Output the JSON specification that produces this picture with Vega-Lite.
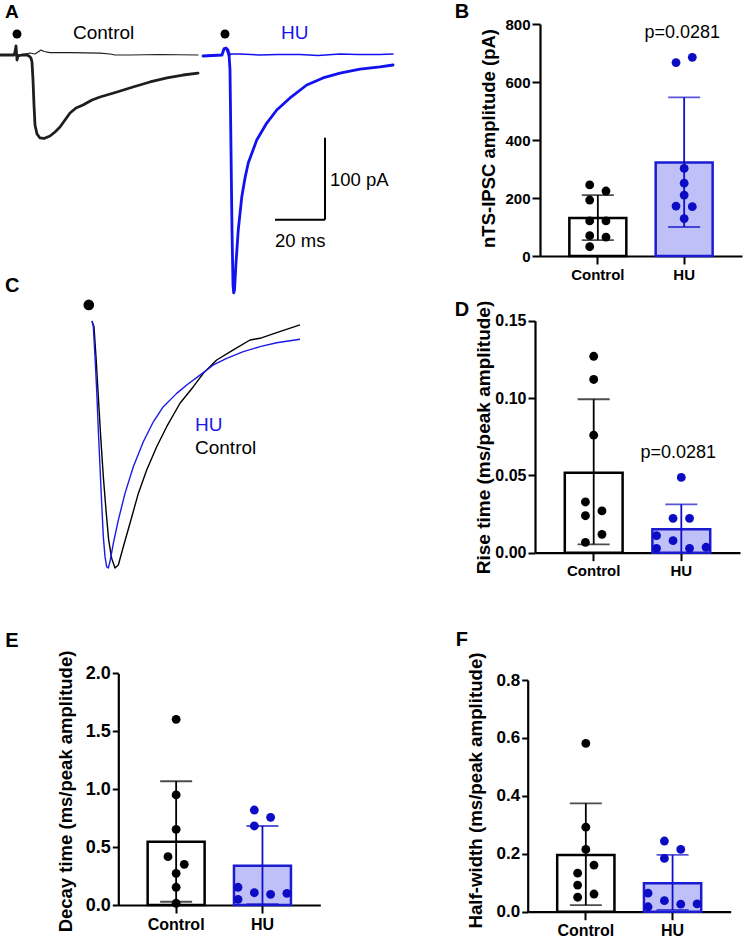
{
  "$schema": "https://vega.github.io/schema/vega-lite/v6.json",
  "width": 745,
  "height": 941,
  "autosize": {"type": "none"},
  "padding": 0,
  "background": "white",
  "config": {
    "view": {"stroke": null},
    "font": "Liberation Sans",
    "axis": {"grid": false, "domainColor": "#000000", "domainWidth": 2.2, "tickColor": "#000000", "tickWidth": 2, "labelColor": "#000000", "labelFont": "Liberation Sans", "labelFontWeight": "bold", "titleColor": "#000000", "titleFont": "Liberation Sans", "titleFontWeight": "bold", "labelFlush": false, "labelOverlap": false}
  },
  "datasets": {
    "traceA": [
      {"cond": "Control", "sweep": "failure", "t": 0, "I": 0}, {"cond": "Control", "sweep": "failure", "t": 5.6, "I": 0}, {"cond": "Control", "sweep": "failure", "t": 6, "I": 3.7}, {"cond": "Control", "sweep": "failure", "t": 6.4, "I": 11}, {"cond": "Control", "sweep": "failure", "t": 6.8, "I": -6.1}, {"cond": "Control", "sweep": "failure", "t": 7.2, "I": 0}, {"cond": "Control", "sweep": "failure", "t": 10, "I": 1.2}, {"cond": "Control", "sweep": "failure", "t": 12, "I": 2.4}, {"cond": "Control", "sweep": "failure", "t": 14, "I": 1.2}, {"cond": "Control", "sweep": "failure", "t": 15.2, "I": 3.7}, {"cond": "Control", "sweep": "failure", "t": 16.4, "I": 6.1}, {"cond": "Control", "sweep": "failure", "t": 17.6, "I": 4.3}, {"cond": "Control", "sweep": "failure", "t": 20, "I": 3}, {"cond": "Control", "sweep": "failure", "t": 28, "I": 3}, {"cond": "Control", "sweep": "failure", "t": 40, "I": 2.4}, {"cond": "Control", "sweep": "failure", "t": 44, "I": 1.2}, {"cond": "Control", "sweep": "failure", "t": 46, "I": 0}, {"cond": "Control", "sweep": "failure", "t": 52, "I": 0}, {"cond": "Control", "sweep": "failure", "t": 64, "I": 0.6}, {"cond": "Control", "sweep": "failure", "t": 79.2, "I": 0},
      {"cond": "Control", "sweep": "evoked", "t": 0, "I": 0}, {"cond": "Control", "sweep": "evoked", "t": 5.6, "I": 0}, {"cond": "Control", "sweep": "evoked", "t": 6, "I": 3.7}, {"cond": "Control", "sweep": "evoked", "t": 6.4, "I": 11}, {"cond": "Control", "sweep": "evoked", "t": 6.8, "I": -6.1}, {"cond": "Control", "sweep": "evoked", "t": 7.2, "I": -1.2}, {"cond": "Control", "sweep": "evoked", "t": 8.8, "I": 0}, {"cond": "Control", "sweep": "evoked", "t": 10.8, "I": 0}, {"cond": "Control", "sweep": "evoked", "t": 11.6, "I": -1.2}, {"cond": "Control", "sweep": "evoked", "t": 12.4, "I": -3.7}, {"cond": "Control", "sweep": "evoked", "t": 12.8, "I": -8.5}, {"cond": "Control", "sweep": "evoked", "t": 13.2, "I": -30.5}, {"cond": "Control", "sweep": "evoked", "t": 13.6, "I": -61}, {"cond": "Control", "sweep": "evoked", "t": 14, "I": -85.4}, {"cond": "Control", "sweep": "evoked", "t": 14.8, "I": -96.3}, {"cond": "Control", "sweep": "evoked", "t": 16, "I": -101.2}, {"cond": "Control", "sweep": "evoked", "t": 17.6, "I": -101.8}, {"cond": "Control", "sweep": "evoked", "t": 20, "I": -98.8}, {"cond": "Control", "sweep": "evoked", "t": 22, "I": -93.9}, {"cond": "Control", "sweep": "evoked", "t": 24, "I": -87.8}, {"cond": "Control", "sweep": "evoked", "t": 26, "I": -79.3}, {"cond": "Control", "sweep": "evoked", "t": 28, "I": -70.7}, {"cond": "Control", "sweep": "evoked", "t": 30.4, "I": -64.6}, {"cond": "Control", "sweep": "evoked", "t": 33.2, "I": -61}, {"cond": "Control", "sweep": "evoked", "t": 36.8, "I": -54.9}, {"cond": "Control", "sweep": "evoked", "t": 40, "I": -51.2}, {"cond": "Control", "sweep": "evoked", "t": 46.8, "I": -45.1}, {"cond": "Control", "sweep": "evoked", "t": 53.2, "I": -39}, {"cond": "Control", "sweep": "evoked", "t": 60, "I": -32.9}, {"cond": "Control", "sweep": "evoked", "t": 66.8, "I": -28}, {"cond": "Control", "sweep": "evoked", "t": 73.2, "I": -24.4}, {"cond": "Control", "sweep": "evoked", "t": 79.2, "I": -22},
      {"cond": "HU", "sweep": "failure", "t": 0, "I": -1.2}, {"cond": "HU", "sweep": "failure", "t": 4.8, "I": 0}, {"cond": "HU", "sweep": "failure", "t": 7.6, "I": 0}, {"cond": "HU", "sweep": "failure", "t": 8, "I": 6.1}, {"cond": "HU", "sweep": "failure", "t": 8.4, "I": 8.5}, {"cond": "HU", "sweep": "failure", "t": 9.2, "I": 7.3}, {"cond": "HU", "sweep": "failure", "t": 10, "I": 1.2}, {"cond": "HU", "sweep": "failure", "t": 10.4, "I": -3.7}, {"cond": "HU", "sweep": "failure", "t": 10.8, "I": 1.2}, {"cond": "HU", "sweep": "failure", "t": 14.8, "I": 1.2}, {"cond": "HU", "sweep": "failure", "t": 22.8, "I": 0}, {"cond": "HU", "sweep": "failure", "t": 30, "I": 0.6}, {"cond": "HU", "sweep": "failure", "t": 38.8, "I": 0.6}, {"cond": "HU", "sweep": "failure", "t": 46, "I": -0.6}, {"cond": "HU", "sweep": "failure", "t": 54.8, "I": 1.2}, {"cond": "HU", "sweep": "failure", "t": 62, "I": 0.6}, {"cond": "HU", "sweep": "failure", "t": 70.8, "I": 0.6}, {"cond": "HU", "sweep": "failure", "t": 76, "I": 1.2},
      {"cond": "HU", "sweep": "evoked", "t": 0, "I": -1.2}, {"cond": "HU", "sweep": "evoked", "t": 7.6, "I": 0}, {"cond": "HU", "sweep": "evoked", "t": 8.4, "I": 7.3}, {"cond": "HU", "sweep": "evoked", "t": 9.2, "I": 8.5}, {"cond": "HU", "sweep": "evoked", "t": 10, "I": 6.1}, {"cond": "HU", "sweep": "evoked", "t": 10.4, "I": 1.2}, {"cond": "HU", "sweep": "evoked", "t": 10.8, "I": -18.3}, {"cond": "HU", "sweep": "evoked", "t": 11.2, "I": -115.9}, {"cond": "HU", "sweep": "evoked", "t": 11.6, "I": -213.4}, {"cond": "HU", "sweep": "evoked", "t": 12, "I": -280.5}, {"cond": "HU", "sweep": "evoked", "t": 12.28, "I": -290.2}, {"cond": "HU", "sweep": "evoked", "t": 12.6, "I": -286.6}, {"cond": "HU", "sweep": "evoked", "t": 13.2, "I": -253.7}, {"cond": "HU", "sweep": "evoked", "t": 14.1, "I": -213.4}, {"cond": "HU", "sweep": "evoked", "t": 15.5, "I": -173.2}, {"cond": "HU", "sweep": "evoked", "t": 16.8, "I": -150}, {"cond": "HU", "sweep": "evoked", "t": 18.1, "I": -131.7}, {"cond": "HU", "sweep": "evoked", "t": 21.5, "I": -103.7}, {"cond": "HU", "sweep": "evoked", "t": 25.5, "I": -83}, {"cond": "HU", "sweep": "evoked", "t": 29.5, "I": -67.1}, {"cond": "HU", "sweep": "evoked", "t": 34.8, "I": -52.4}, {"cond": "HU", "sweep": "evoked", "t": 41.5, "I": -36.6}, {"cond": "HU", "sweep": "evoked", "t": 48, "I": -28}, {"cond": "HU", "sweep": "evoked", "t": 54.8, "I": -22}, {"cond": "HU", "sweep": "evoked", "t": 62.8, "I": -17.1}, {"cond": "HU", "sweep": "evoked", "t": 70.8, "I": -14.6}, {"cond": "HU", "sweep": "evoked", "t": 76, "I": -12.2}
    ],
    "traceC": [
      {"cond": "Control", "t": 0, "I": 0}, {"cond": "Control", "t": 0.5, "I": -0.023}, {"cond": "Control", "t": 1, "I": -0.145}, {"cond": "Control", "t": 1.58, "I": -0.306}, {"cond": "Control", "t": 2.17, "I": -0.468}, {"cond": "Control", "t": 2.83, "I": -0.63}, {"cond": "Control", "t": 3.5, "I": -0.765}, {"cond": "Control", "t": 4.17, "I": -0.887}, {"cond": "Control", "t": 4.92, "I": -0.961}, {"cond": "Control", "t": 5.75, "I": -1}, {"cond": "Control", "t": 6.58, "I": -0.988}, {"cond": "Control", "t": 7.83, "I": -0.914}, {"cond": "Control", "t": 9.5, "I": -0.819}, {"cond": "Control", "t": 11.58, "I": -0.698}, {"cond": "Control", "t": 13.67, "I": -0.603}, {"cond": "Control", "t": 16.17, "I": -0.509}, {"cond": "Control", "t": 18.67, "I": -0.428}, {"cond": "Control", "t": 22, "I": -0.333}, {"cond": "Control", "t": 25.33, "I": -0.266}, {"cond": "Control", "t": 27.83, "I": -0.212}, {"cond": "Control", "t": 31.17, "I": -0.158}, {"cond": "Control", "t": 35.33, "I": -0.117}, {"cond": "Control", "t": 39.5, "I": -0.077}, {"cond": "Control", "t": 42, "I": -0.07}, {"cond": "Control", "t": 46.17, "I": -0.047}, {"cond": "Control", "t": 52, "I": -0.016},
      {"cond": "HU", "t": 0, "I": 0}, {"cond": "HU", "t": 0.33, "I": -0.023}, {"cond": "HU", "t": 0.75, "I": -0.145}, {"cond": "HU", "t": 1.17, "I": -0.279}, {"cond": "HU", "t": 1.58, "I": -0.441}, {"cond": "HU", "t": 2, "I": -0.59}, {"cond": "HU", "t": 2.42, "I": -0.738}, {"cond": "HU", "t": 2.83, "I": -0.873}, {"cond": "HU", "t": 3.25, "I": -0.954}, {"cond": "HU", "t": 3.67, "I": -0.995}, {"cond": "HU", "t": 4.08, "I": -1}, {"cond": "HU", "t": 4.5, "I": -0.974}, {"cond": "HU", "t": 5.33, "I": -0.9}, {"cond": "HU", "t": 6.58, "I": -0.806}, {"cond": "HU", "t": 8.25, "I": -0.698}, {"cond": "HU", "t": 10.33, "I": -0.59}, {"cond": "HU", "t": 12.83, "I": -0.489}, {"cond": "HU", "t": 15.33, "I": -0.408}, {"cond": "HU", "t": 17.83, "I": -0.347}, {"cond": "HU", "t": 21.17, "I": -0.293}, {"cond": "HU", "t": 23.67, "I": -0.259}, {"cond": "HU", "t": 27, "I": -0.219}, {"cond": "HU", "t": 30.33, "I": -0.178}, {"cond": "HU", "t": 33.67, "I": -0.151}, {"cond": "HU", "t": 37.83, "I": -0.124}, {"cond": "HU", "t": 42, "I": -0.104}, {"cond": "HU", "t": 46.17, "I": -0.088}, {"cond": "HU", "t": 52, "I": -0.074}
    ],
    "points": [
      {"panel": "B", "group": "Control", "value": 245, "col": -1}, {"panel": "B", "group": "Control", "value": 224, "col": 1}, {"panel": "B", "group": "Control", "value": 193, "col": -1}, {"panel": "B", "group": "Control", "value": 121, "col": -1}, {"panel": "B", "group": "Control", "value": 121, "col": 1}, {"panel": "B", "group": "Control", "value": 70, "col": -1}, {"panel": "B", "group": "Control", "value": 65, "col": 1}, {"panel": "B", "group": "Control", "value": 32, "col": -1},
      {"panel": "B", "group": "HU", "value": 667, "col": -1}, {"panel": "B", "group": "HU", "value": 685, "col": 1}, {"panel": "B", "group": "HU", "value": 302, "col": 0}, {"panel": "B", "group": "HU", "value": 251, "col": 0}, {"panel": "B", "group": "HU", "value": 210, "col": 0}, {"panel": "B", "group": "HU", "value": 172, "col": -1}, {"panel": "B", "group": "HU", "value": 170, "col": 1}, {"panel": "B", "group": "HU", "value": 129, "col": 0},
      {"panel": "D", "group": "Control", "value": 0.127, "col": 0}, {"panel": "D", "group": "Control", "value": 0.112, "col": 0}, {"panel": "D", "group": "Control", "value": 0.076, "col": 0}, {"panel": "D", "group": "Control", "value": 0.0328, "col": -1}, {"panel": "D", "group": "Control", "value": 0.0239, "col": -1}, {"panel": "D", "group": "Control", "value": 0.027, "col": 1}, {"panel": "D", "group": "Control", "value": 0.0119, "col": 1}, {"panel": "D", "group": "Control", "value": 0.0067, "col": -1},
      {"panel": "D", "group": "HU", "value": 0.0487, "col": 0}, {"panel": "D", "group": "HU", "value": 0.0222, "col": -1}, {"panel": "D", "group": "HU", "value": 0.0222, "col": 1}, {"panel": "D", "group": "HU", "value": 0.011, "col": -3}, {"panel": "D", "group": "HU", "value": 0.0078, "col": -1}, {"panel": "D", "group": "HU", "value": 0.0028, "col": -3}, {"panel": "D", "group": "HU", "value": 0.0028, "col": 1}, {"panel": "D", "group": "HU", "value": 0.0035, "col": 3},
      {"panel": "E", "group": "Control", "value": 1.603, "col": 0}, {"panel": "E", "group": "Control", "value": 0.95, "col": 0}, {"panel": "E", "group": "Control", "value": 0.653, "col": 0}, {"panel": "E", "group": "Control", "value": 0.417, "col": -1}, {"panel": "E", "group": "Control", "value": 0.351, "col": 1}, {"panel": "E", "group": "Control", "value": 0.273, "col": 0}, {"panel": "E", "group": "Control", "value": 0.153, "col": 0}, {"panel": "E", "group": "Control", "value": 0.015, "col": 0},
      {"panel": "E", "group": "HU", "value": 0.82, "col": -1}, {"panel": "E", "group": "HU", "value": 0.757, "col": 1}, {"panel": "E", "group": "HU", "value": 0.682, "col": -1}, {"panel": "E", "group": "HU", "value": 0.153, "col": -3}, {"panel": "E", "group": "HU", "value": 0.106, "col": -1}, {"panel": "E", "group": "HU", "value": 0.092, "col": 1}, {"panel": "E", "group": "HU", "value": 0.101, "col": 3}, {"panel": "E", "group": "HU", "value": 0.049, "col": -3},
      {"panel": "F", "group": "Control", "value": 0.581, "col": 0}, {"panel": "F", "group": "Control", "value": 0.292, "col": 0}, {"panel": "F", "group": "Control", "value": 0.215, "col": 0}, {"panel": "F", "group": "Control", "value": 0.161, "col": 1}, {"panel": "F", "group": "Control", "value": 0.133, "col": -1}, {"panel": "F", "group": "Control", "value": 0.092, "col": -1}, {"panel": "F", "group": "Control", "value": 0.061, "col": 1}, {"panel": "F", "group": "Control", "value": 0.05, "col": -1},
      {"panel": "F", "group": "HU", "value": 0.244, "col": -1}, {"panel": "F", "group": "HU", "value": 0.215, "col": 1}, {"panel": "F", "group": "HU", "value": 0.184, "col": -1}, {"panel": "F", "group": "HU", "value": 0.064, "col": -3}, {"panel": "F", "group": "HU", "value": 0.038, "col": -1}, {"panel": "F", "group": "HU", "value": 0.026, "col": 1}, {"panel": "F", "group": "HU", "value": 0.027, "col": 3}, {"panel": "F", "group": "HU", "value": 0.017, "col": -3}
    ],
    "summary": [
      {"panel": "B", "group": "Control", "mean": 131, "lo": 55, "hi": 210}, {"panel": "B", "group": "HU", "mean": 322, "lo": 100, "hi": 547},
      {"panel": "D", "group": "Control", "mean": 0.0517, "lo": 0.0054, "hi": 0.0992}, {"panel": "D", "group": "HU", "mean": 0.0151, "lo": 0, "hi": 0.0313},
      {"panel": "E", "group": "Control", "mean": 0.546, "lo": 0.028, "hi": 1.068}, {"panel": "E", "group": "HU", "mean": 0.339, "lo": 0.008, "hi": 0.682},
      {"panel": "F", "group": "Control", "mean": 0.196, "lo": 0.023, "hi": 0.374}, {"panel": "F", "group": "HU", "mean": 0.098, "lo": 0.006, "hi": 0.196}
    ]
  },
  "resolve": {
    "scale": {"x": "independent", "y": "independent", "xOffset": "independent", "color": "independent", "fill": "independent", "stroke": "independent", "strokeWidth": "independent"},
    "axis": {"x": "independent", "y": "independent"}
  },
  "layer": [
    {
      "layer": [
        {
          "data": {"name": "traceA"},
          "transform": [{"filter": "datum.cond === 'Control'"}],
          "mark": {"type": "line", "strokeJoin": "round", "strokeCap": "round"},
          "encoding": {
            "x": {"field": "t", "type": "quantitative", "scale": {"domain": [0, 79.2], "range": [0, 198], "nice": false, "zero": false}, "axis": null},
            "y": {"field": "I", "type": "quantitative", "scale": {"domain": [-300, 50], "range": [301, 14], "nice": false, "zero": false}, "axis": null},
            "color": {"field": "cond", "type": "nominal", "scale": {"domain": ["Control", "HU"], "range": ["#1e1e1e", "#1212ee"]}, "legend": null},
            "strokeWidth": {"field": "sweep", "type": "ordinal", "scale": {"domain": ["evoked", "failure"], "range": [2.8, 1.2]}, "legend": null},
            "detail": {"field": "sweep"}
          }
        },
        {"data": {"values": [{}]}, "mark": {"type": "circle", "size": 80, "color": "#000000", "opacity": 1}, "encoding": {"x": {"datum": 6.8}, "y": {"datum": 25.6}}},
        {"data": {"values": [{}]}, "mark": {"type": "text", "text": "Control", "fontSize": 19, "align": "left", "baseline": "middle", "color": "#000000"}, "encoding": {"x": {"datum": 29.2}, "y": {"datum": 26.8}}},
        {"data": {"values": [{}]}, "mark": {"type": "text", "text": "A", "fontSize": 19, "fontWeight": "bold", "align": "left", "baseline": "alphabetic", "color": "#000000"}, "encoding": {"x": {"datum": 2}, "y": {"datum": 45.7}}}
      ]
    },
    {
      "layer": [
        {
          "data": {"name": "traceA"},
          "transform": [{"filter": "datum.cond === 'HU'"}],
          "mark": {"type": "line", "strokeJoin": "round", "strokeCap": "round"},
          "encoding": {
            "x": {"field": "t", "type": "quantitative", "scale": {"domain": [0, 76], "range": [203, 393], "nice": false, "zero": false}, "axis": null},
            "y": {"field": "I", "type": "quantitative", "scale": {"domain": [-300, 50], "range": [301, 14], "nice": false, "zero": false}, "axis": null},
            "color": {"field": "cond", "type": "nominal", "scale": {"domain": ["Control", "HU"], "range": ["#1e1e1e", "#1212ee"]}, "legend": null},
            "strokeWidth": {"field": "sweep", "type": "ordinal", "scale": {"domain": ["evoked", "failure"], "range": [2.8, 1.4]}, "legend": null},
            "detail": {"field": "sweep"}
          }
        },
        {"data": {"values": [{}]}, "mark": {"type": "circle", "size": 80, "color": "#000000", "opacity": 1}, "encoding": {"x": {"datum": 8.8}, "y": {"datum": 25.6}}},
        {"data": {"values": [{}]}, "mark": {"type": "text", "text": "HU", "fontSize": 19, "align": "left", "baseline": "middle", "color": "#1414f0"}, "encoding": {"x": {"datum": 31.2}, "y": {"datum": 26.8}}},
        {"data": {"values": [{}]}, "mark": {"type": "rule", "strokeWidth": 2, "color": "#000000"}, "encoding": {"x": {"datum": 48.8}, "y": {"datum": -101}, "y2": {"datum": -201}}},
        {"data": {"values": [{}]}, "mark": {"type": "rule", "strokeWidth": 2, "color": "#000000"}, "encoding": {"x": {"datum": 28.8}, "x2": {"datum": 48.8}, "y": {"datum": -201}}},
        {"data": {"values": [{}]}, "mark": {"type": "text", "text": "100 pA", "fontSize": 18.5, "align": "left", "baseline": "middle", "color": "#000000"}, "encoding": {"x": {"datum": 50.8}, "y": {"datum": -153}}},
        {"data": {"values": [{}]}, "mark": {"type": "text", "text": "20 ms", "fontSize": 18.5, "align": "left", "baseline": "middle", "color": "#000000"}, "encoding": {"x": {"datum": 28.8}, "y": {"datum": -227}}}
      ]
    },
    {
      "layer": [
        {
          "data": {"name": "traceC"},
          "mark": {"type": "line", "strokeWidth": 1.4, "strokeJoin": "round"},
          "encoding": {
            "x": {"field": "t", "type": "quantitative", "scale": {"domain": [0, 52], "range": [92, 300], "nice": false, "zero": false}, "axis": null},
            "y": {"field": "I", "type": "quantitative", "scale": {"domain": [-1, 0], "range": [568, 321], "nice": false, "zero": false}, "axis": null},
            "color": {"field": "cond", "type": "nominal", "scale": {"domain": ["Control", "HU"], "range": ["#000000", "#1a1ae6"]}, "legend": null}
          }
        },
        {"data": {"values": [{}]}, "mark": {"type": "circle", "size": 115, "color": "#000000", "opacity": 1}, "encoding": {"x": {"datum": -0.8}, "y": {"datum": 0.065}}},
        {"data": {"values": [{}]}, "mark": {"type": "text", "text": "HU", "fontSize": 19, "align": "left", "baseline": "middle", "color": "#1a1ae6"}, "encoding": {"x": {"datum": 25.75}, "y": {"datum": -0.421}}},
        {"data": {"values": [{}]}, "mark": {"type": "text", "text": "Control", "fontSize": 19, "align": "left", "baseline": "middle", "color": "#000000"}, "encoding": {"x": {"datum": 25.75}, "y": {"datum": -0.514}}},
        {"data": {"values": [{}]}, "mark": {"type": "text", "text": "C", "fontSize": 20, "fontWeight": "bold", "align": "left", "baseline": "middle", "color": "#000000"}, "encoding": {"x": {"datum": -21.75}, "y": {"datum": 0.142}}}
      ]
    },
    {
      "data": {"name": "summary"},
      "transform": [{"filter": "datum.panel === 'B'"}],
      "layer": [
        {
          "mark": {"type": "bar", "strokeWidth": 2.5},
          "encoding": {
            "x": {"field": "group", "type": "nominal", "scale": {"domain": ["Control", "HU"], "range": [540, 742], "paddingInner": 0.34, "paddingOuter": 0.34}, "axis": {"orient": "bottom", "offset": -685, "title": null, "labelAngle": 0, "tickSize": 8, "labelPadding": 3, "labelFontSize": 15}},
            "y": {"field": "mean", "type": "quantitative", "stack": null, "scale": {"domain": [0, 800], "range": [256, 24], "nice": false}, "axis": {"orient": "left", "offset": -540, "title": "nTS-IPSC amplitude (pA)", "values": [0, 200, 400, 600, 800], "format": "d", "tickSize": 8, "labelPadding": 2, "labelFontSize": 15, "titleFontSize": 18.5, "titleX": -52, "titleY": 138, "titleBaseline": "middle", "titleAlign": "center"}},
            "fill": {"field": "group", "type": "nominal", "scale": {"domain": ["Control", "HU"], "range": ["#ffffff", "#bfc0f7"]}, "legend": null},
            "stroke": {"field": "group", "type": "nominal", "scale": {"domain": ["Control", "HU"], "range": ["#000000", "#1b1bd2"]}, "legend": null}
          }
        },
        {
          "mark": {"type": "rule", "strokeWidth": 1.8},
          "encoding": {"x": {"field": "group", "type": "nominal"}, "y": {"field": "lo", "type": "quantitative"}, "y2": {"field": "hi"}, "color": {"field": "group", "type": "nominal", "scale": {"domain": ["Control", "HU"], "range": ["#000000", "#1010c8"]}, "legend": null}}
        },
        {
          "mark": {"type": "tick", "orient": "horizontal", "size": 32, "thickness": 1.8},
          "encoding": {"x": {"field": "group", "type": "nominal"}, "y": {"field": "hi", "type": "quantitative"}, "color": {"field": "group", "type": "nominal", "legend": null}}
        },
        {
          "transform": [{"filter": "datum.lo > 0"}],
          "mark": {"type": "tick", "orient": "horizontal", "size": 32, "thickness": 1.8},
          "encoding": {"x": {"field": "group", "type": "nominal"}, "y": {"field": "lo", "type": "quantitative"}, "color": {"field": "group", "type": "nominal", "legend": null}}
        },
        {"data": {"values": [{}]}, "mark": {"type": "text", "text": "p=0.0281", "fontSize": 18, "baseline": "middle", "align": "center", "dx": -2, "color": "#000000"}, "encoding": {"x": {"datum": "HU"}, "y": {"datum": 769}}},
        {"data": {"values": [{}]}, "mark": {"type": "text", "text": "B", "fontSize": 20, "fontWeight": "bold", "align": "left", "baseline": "middle", "dx": -143, "color": "#000000"}, "encoding": {"x": {"datum": "Control"}, "y": {"datum": 841}}}
      ]
    },
    {
      "data": {"name": "points"},
      "transform": [{"filter": "datum.panel === 'B'"}],
      "mark": {"type": "circle", "size": 78, "opacity": 1},
      "encoding": {
        "x": {"field": "group", "type": "nominal", "scale": {"domain": ["Control", "HU"], "range": [540, 742], "paddingInner": 0.34, "paddingOuter": 0.34}, "axis": null},
        "xOffset": {"field": "col", "type": "quantitative", "scale": {"domain": [-3.5, 3.5], "nice": false, "zero": false}},
        "y": {"field": "value", "type": "quantitative", "scale": {"domain": [0, 800], "range": [256, 24], "nice": false}, "axis": null},
        "color": {"field": "group", "type": "nominal", "scale": {"domain": ["Control", "HU"], "range": ["#000000", "#0c0cc4"]}, "legend": null}
      }
    },
    {
      "data": {"name": "summary"},
      "transform": [{"filter": "datum.panel === 'D'"}],
      "layer": [
        {
          "mark": {"type": "bar", "strokeWidth": 2.5},
          "encoding": {
            "x": {"field": "group", "type": "nominal", "scale": {"domain": ["Control", "HU"], "range": [535, 740], "paddingInner": 0.34, "paddingOuter": 0.34}, "axis": {"orient": "bottom", "offset": -388.3, "title": null, "labelAngle": 0, "tickSize": 8, "labelPadding": 3, "labelFontSize": 15}},
            "y": {"field": "mean", "type": "quantitative", "stack": null, "scale": {"domain": [0, 0.15], "range": [552.7, 320.7], "nice": false}, "axis": {"orient": "left", "offset": -535, "title": "Rise time (ms/peak amplitude)", "values": [0, 0.05, 0.1, 0.15], "format": ".2f", "tickSize": 7, "labelPadding": 2, "labelFontSize": 16, "titleFontSize": 19, "titleX": -52, "titleY": 437, "titleBaseline": "middle", "titleAlign": "center"}},
            "fill": {"field": "group", "type": "nominal", "scale": {"domain": ["Control", "HU"], "range": ["#ffffff", "#bfc0f7"]}, "legend": null},
            "stroke": {"field": "group", "type": "nominal", "scale": {"domain": ["Control", "HU"], "range": ["#000000", "#1b1bd2"]}, "legend": null}
          }
        },
        {
          "mark": {"type": "rule", "strokeWidth": 1.8},
          "encoding": {"x": {"field": "group", "type": "nominal"}, "y": {"field": "lo", "type": "quantitative"}, "y2": {"field": "hi"}, "color": {"field": "group", "type": "nominal", "scale": {"domain": ["Control", "HU"], "range": ["#000000", "#1010c8"]}, "legend": null}}
        },
        {
          "mark": {"type": "tick", "orient": "horizontal", "size": 32, "thickness": 1.8},
          "encoding": {"x": {"field": "group", "type": "nominal"}, "y": {"field": "hi", "type": "quantitative"}, "color": {"field": "group", "type": "nominal", "legend": null}}
        },
        {
          "transform": [{"filter": "datum.lo > 0"}],
          "mark": {"type": "tick", "orient": "horizontal", "size": 32, "thickness": 1.8},
          "encoding": {"x": {"field": "group", "type": "nominal"}, "y": {"field": "lo", "type": "quantitative"}, "color": {"field": "group", "type": "nominal", "legend": null}}
        },
        {"data": {"values": [{}]}, "mark": {"type": "text", "text": "p=0.0281", "fontSize": 18, "baseline": "middle", "align": "center", "dx": -3, "color": "#000000"}, "encoding": {"x": {"datum": "HU"}, "y": {"datum": 0.0645}}},
        {"data": {"values": [{}]}, "mark": {"type": "text", "text": "D", "fontSize": 20, "fontWeight": "bold", "align": "left", "baseline": "middle", "dx": -139, "color": "#000000"}, "encoding": {"x": {"datum": "Control"}, "y": {"datum": 0.157}}}
      ]
    },
    {
      "data": {"name": "points"},
      "transform": [{"filter": "datum.panel === 'D'"}],
      "mark": {"type": "circle", "size": 78, "opacity": 1},
      "encoding": {
        "x": {"field": "group", "type": "nominal", "scale": {"domain": ["Control", "HU"], "range": [535, 740], "paddingInner": 0.34, "paddingOuter": 0.34}, "axis": null},
        "xOffset": {"field": "col", "type": "quantitative", "scale": {"domain": [-3.5, 3.5], "nice": false, "zero": false}},
        "y": {"field": "value", "type": "quantitative", "scale": {"domain": [0, 0.15], "range": [552.7, 320.7], "nice": false}, "axis": null},
        "color": {"field": "group", "type": "nominal", "scale": {"domain": ["Control", "HU"], "range": ["#000000", "#0c0cc4"]}, "legend": null}
      }
    },
    {
      "data": {"name": "summary"},
      "transform": [{"filter": "datum.panel === 'E'"}],
      "layer": [
        {
          "mark": {"type": "bar", "strokeWidth": 2.5},
          "encoding": {
            "x": {"field": "group", "type": "nominal", "scale": {"domain": ["Control", "HU"], "range": [118.3, 320.3], "paddingInner": 0.34, "paddingOuter": 0.34}, "axis": {"orient": "bottom", "offset": -36, "title": null, "labelAngle": 0, "tickSize": 8, "labelPadding": 3, "labelFontSize": 16}},
            "y": {"field": "mean", "type": "quantitative", "stack": null, "scale": {"domain": [0, 2], "range": [905, 673.3], "nice": false}, "axis": {"orient": "left", "offset": -118.3, "title": "Decay time (ms/peak amplitude)", "values": [0, 0.5, 1, 1.5, 2], "format": ".1f", "tickSize": 6, "labelPadding": 2, "labelFontSize": 18, "titleFontSize": 18.5, "titleX": -52.5, "titleY": 791, "titleBaseline": "middle", "titleAlign": "center"}},
            "fill": {"field": "group", "type": "nominal", "scale": {"domain": ["Control", "HU"], "range": ["#ffffff", "#bfc0f7"]}, "legend": null},
            "stroke": {"field": "group", "type": "nominal", "scale": {"domain": ["Control", "HU"], "range": ["#000000", "#1b1bd2"]}, "legend": null}
          }
        },
        {
          "mark": {"type": "rule", "strokeWidth": 1.8},
          "encoding": {"x": {"field": "group", "type": "nominal"}, "y": {"field": "lo", "type": "quantitative"}, "y2": {"field": "hi"}, "color": {"field": "group", "type": "nominal", "scale": {"domain": ["Control", "HU"], "range": ["#000000", "#1010c8"]}, "legend": null}}
        },
        {
          "mark": {"type": "tick", "orient": "horizontal", "size": 32, "thickness": 1.8},
          "encoding": {"x": {"field": "group", "type": "nominal"}, "y": {"field": "hi", "type": "quantitative"}, "color": {"field": "group", "type": "nominal", "legend": null}}
        },
        {
          "transform": [{"filter": "datum.lo > 0"}],
          "mark": {"type": "tick", "orient": "horizontal", "size": 32, "thickness": 1.8},
          "encoding": {"x": {"field": "group", "type": "nominal"}, "y": {"field": "lo", "type": "quantitative"}, "color": {"field": "group", "type": "nominal", "legend": null}}
        },
        {"data": {"values": [{}]}, "mark": {"type": "text", "text": "E", "fontSize": 20, "fontWeight": "bold", "align": "left", "baseline": "middle", "dx": -171, "color": "#000000"}, "encoding": {"x": {"datum": "Control"}, "y": {"datum": 2.279}}}
      ]
    },
    {
      "data": {"name": "points"},
      "transform": [{"filter": "datum.panel === 'E'"}],
      "mark": {"type": "circle", "size": 78, "opacity": 1},
      "encoding": {
        "x": {"field": "group", "type": "nominal", "scale": {"domain": ["Control", "HU"], "range": [118.3, 320.3], "paddingInner": 0.34, "paddingOuter": 0.34}, "axis": null},
        "xOffset": {"field": "col", "type": "quantitative", "scale": {"domain": [-3.5, 3.5], "nice": false, "zero": false}},
        "y": {"field": "value", "type": "quantitative", "scale": {"domain": [0, 2], "range": [905, 673.3], "nice": false}, "axis": null},
        "color": {"field": "group", "type": "nominal", "scale": {"domain": ["Control", "HU"], "range": ["#000000", "#0c0cc4"]}, "legend": null}
      }
    },
    {
      "data": {"name": "summary"},
      "transform": [{"filter": "datum.panel === 'F'"}],
      "layer": [
        {
          "mark": {"type": "bar", "strokeWidth": 2.5},
          "encoding": {
            "x": {"field": "group", "type": "nominal", "scale": {"domain": ["Control", "HU"], "range": [527.7, 730.7], "paddingInner": 0.34, "paddingOuter": 0.34}, "axis": {"orient": "bottom", "offset": -29.3, "title": null, "labelAngle": 0, "tickSize": 8, "labelPadding": 3, "labelFontSize": 16}},
            "y": {"field": "mean", "type": "quantitative", "stack": null, "scale": {"domain": [0, 0.8], "range": [911.7, 680], "nice": false}, "axis": {"orient": "left", "offset": -527.7, "title": "Half-width (ms/peak amplitude)", "values": [0, 0.2, 0.4, 0.6, 0.8], "format": ".1f", "tickSize": 6, "labelPadding": 2, "labelFontSize": 17, "titleFontSize": 18.7, "titleX": -52, "titleY": 790, "titleBaseline": "middle", "titleAlign": "center"}},
            "fill": {"field": "group", "type": "nominal", "scale": {"domain": ["Control", "HU"], "range": ["#ffffff", "#bfc0f7"]}, "legend": null},
            "stroke": {"field": "group", "type": "nominal", "scale": {"domain": ["Control", "HU"], "range": ["#000000", "#1b1bd2"]}, "legend": null}
          }
        },
        {
          "mark": {"type": "rule", "strokeWidth": 1.8},
          "encoding": {"x": {"field": "group", "type": "nominal"}, "y": {"field": "lo", "type": "quantitative"}, "y2": {"field": "hi"}, "color": {"field": "group", "type": "nominal", "scale": {"domain": ["Control", "HU"], "range": ["#000000", "#1010c8"]}, "legend": null}}
        },
        {
          "mark": {"type": "tick", "orient": "horizontal", "size": 32, "thickness": 1.8},
          "encoding": {"x": {"field": "group", "type": "nominal"}, "y": {"field": "hi", "type": "quantitative"}, "color": {"field": "group", "type": "nominal", "legend": null}}
        },
        {
          "transform": [{"filter": "datum.lo > 0"}],
          "mark": {"type": "tick", "orient": "horizontal", "size": 32, "thickness": 1.8},
          "encoding": {"x": {"field": "group", "type": "nominal"}, "y": {"field": "lo", "type": "quantitative"}, "color": {"field": "group", "type": "nominal", "legend": null}}
        },
        {"data": {"values": [{}]}, "mark": {"type": "text", "text": "F", "fontSize": 20, "fontWeight": "bold", "align": "left", "baseline": "middle", "dx": -130, "color": "#000000"}, "encoding": {"x": {"datum": "Control"}, "y": {"datum": 0.938}}}
      ]
    },
    {
      "data": {"name": "points"},
      "transform": [{"filter": "datum.panel === 'F'"}],
      "mark": {"type": "circle", "size": 78, "opacity": 1},
      "encoding": {
        "x": {"field": "group", "type": "nominal", "scale": {"domain": ["Control", "HU"], "range": [527.7, 730.7], "paddingInner": 0.34, "paddingOuter": 0.34}, "axis": null},
        "xOffset": {"field": "col", "type": "quantitative", "scale": {"domain": [-3.5, 3.5], "nice": false, "zero": false}},
        "y": {"field": "value", "type": "quantitative", "scale": {"domain": [0, 0.8], "range": [911.7, 680], "nice": false}, "axis": null},
        "color": {"field": "group", "type": "nominal", "scale": {"domain": ["Control", "HU"], "range": ["#000000", "#0c0cc4"]}, "legend": null}
      }
    }
  ]
}
